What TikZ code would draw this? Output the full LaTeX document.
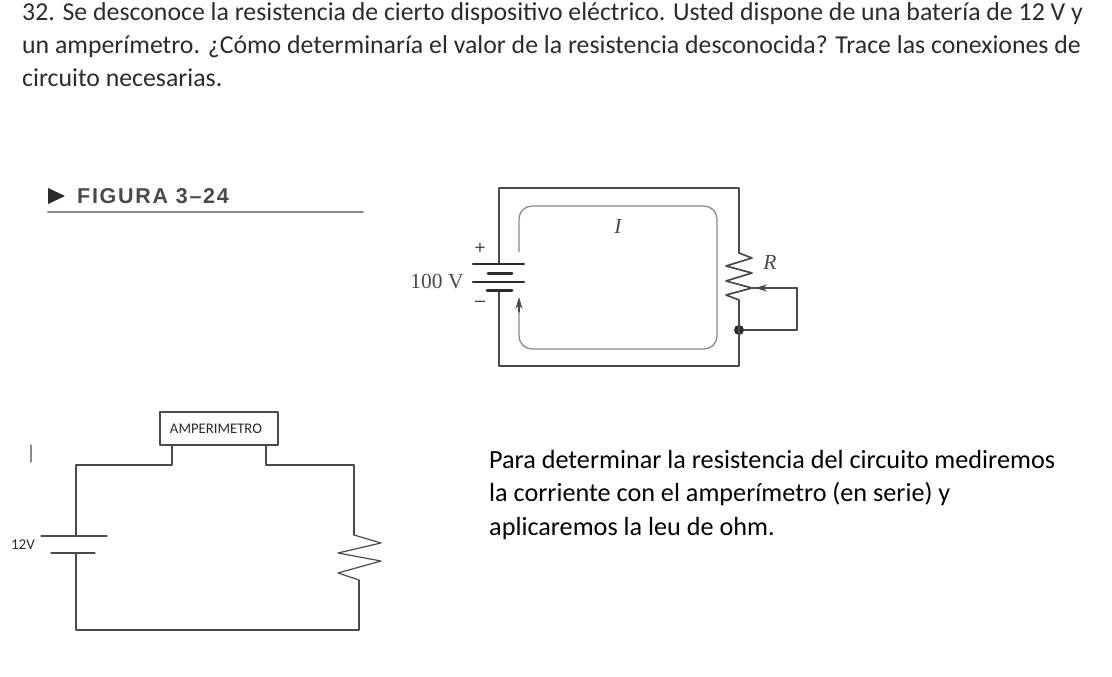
\documentclass[tikz,border=0pt]{standalone}
\usepackage{xcolor}
\usepackage{fontspec}
\setmainfont{Carlito}
\newfontfamily\serifcirc{Liberation Serif}
\newfontfamily\headfont[LetterSpace=8]{Liberation Sans}
\usetikzlibrary{arrows.meta,positioning,calc}
\definecolor{ink}{HTML}{2B2B2B}
\definecolor{wire}{HTML}{4A4A4A}
\definecolor{loopgray}{HTML}{8A8A8A}
\tikzset{
    every picture/.style={line cap=round,line join=round},
    bodytext/.style={anchor=base west,inner sep=0pt,text=ink,font=\fontsize{25.8}{30}\selectfont},
    anstext/.style={anchor=base west,inner sep=0pt,text=black,font=\fontsize{26.2}{30}\selectfont},
    circlabel/.style={inner sep=0pt,text=wire,font=\fontsize{21.5}{24}\serifcirc},
    wireline/.style={draw=wire,line width=1.7pt},
    plate/.style={draw=ink,line width=2.2pt},
    sketchwire/.style={draw=wire,line width=1.2pt},
    loopline/.style={draw=loopgray,line width=1.3pt},
    metertext/.style={draw=wire,line width=1.2pt,fill=white,minimum width=118pt,minimum height=33pt,
      inner sep=0pt,text=ink,font=\fontsize{14.7}{17}\selectfont}
}
\begin{document}
\begin{tikzpicture}[x=1pt,y=-1pt,>={Stealth[length=12pt,width=7pt]}]
  \useasboundingbox (0,0) rectangle (1112,677);
  % statement
  \node[bodytext] (line1) at (22,21) {32. Se desconoce la resistencia de cierto dispositivo eléctrico. Usted dispone de una batería de 12 V y};
  \node[bodytext] (line2) at (22,54) {un amperímetro. ¿Cómo determinaría el valor de la resistencia desconocida? Trace las conexiones de};
  \node[bodytext] (line3) at (22,87) {circuito necesarias.};
  % figure heading
  \fill[ink] (48,188) -- (65,196) -- (48,204) -- cycle;
  \node[anchor=base west,inner sep=0pt,text=wire,font=\fontsize{21.5}{24}\headfont\bfseries] (head) at (77,203) {FIGURA 3–24};
  \coordinate (ruleL) at (48,212);
  \coordinate (ruleR) at (363,212);
  \draw[draw=loopgray,line width=2pt] (ruleL) -- (ruleR);
  % book circuit
  \coordinate (batTop) at (499,264);
  \coordinate (batBot) at (499,290);
  \coordinate (resTop) at (739,253);
  \coordinate (resBot) at (739,300);
  \coordinate (wiper) at (752,288);
  \coordinate (tapOut) at (797,330);
  \node[circle,fill=ink,minimum size=10pt,inner sep=0pt] (tap) at (739,330) {};
  \draw[wireline] (batTop) |- (resTop |- 0,188) -- (resTop);
  \draw[wireline] (batBot) |- (resBot |- 0,366) -- (resBot);
  \draw[wireline] (resTop) -- (752,258) -- (726,266) -- (752,273) -- (726,281) -- (wiper) -- (726,295) -- (resBot);
  \draw[wireline] (tap) -- (tapOut) |- (wiper);
  \draw[draw=wire,line width=1.6pt,->] (797,288) -- (755,288);
  \draw[plate] (473,264) -- (524,264);
  \draw[plate,line width=3pt] (488,273) -- (512,273);
  \draw[plate] (473,282) -- (524,282);
  \draw[plate,line width=3pt] (487,290) -- (512,290);
  \draw[loopline,rounded corners=13pt] (519,252) |- (717,206) |- (519,349) -- (519,300);
  \draw[draw=wire,line width=1.3pt,->] (519,312) -- (519,297);
  \node[circlabel] (vlabel) at (437,282) {100 V};
  \node[circlabel,font=\fontsize{20}{22}\serifcirc\bfseries] (plus) at (480,249) {+};
  \node[circlabel,font=\fontsize{20}{22}\serifcirc\bfseries] (minus) at (480,304) {–};
  \node[circlabel,font=\fontsize{21.5}{24}\serifcirc\itshape] (ilabel) at (618,226) {I};
  \node[circlabel,font=\fontsize{21.5}{24}\serifcirc\itshape] (rlabel) at (770,262) {R};
  % sketched circuit
  \node[metertext] (meter) at (219,428.5) {\hspace*{-6pt}AMPERIMETRO};
  \coordinate (leadL) at (172,445);
  \coordinate (leadR) at (266,445);
  \coordinate (cellTop) at (76,536);
  \coordinate (cellBot) at (76,553);
  \coordinate (loadTop) at (354,535);
  \coordinate (loadBot) at (359,580);
  \draw[sketchwire] (leadL) -- (172,465) -| (cellTop);
  \draw[sketchwire] (leadR) -- (266,465) -| (loadTop);
  \draw[sketchwire] (cellBot) |- (359,630) -- (loadBot);
  \draw[sketchwire] (loadTop) -- (381,543) -- (338,553) -- (381,561) -- (338,573) -- (loadBot);
  \draw[sketchwire] (41,536) -- (107,536);
  \draw[sketchwire] (51,553) -- (95,553);
  \coordinate (tickA) at (31,445);
  \coordinate (tickB) at (31,462);
  \draw[draw=loopgray,line width=1.2pt] (tickA) -- (tickB);
  \node[inner sep=0pt,text=ink,font=\fontsize{15}{17}\selectfont] (cell) at (23,545) {12V};
  % answer
  \node[anstext] (ans1) at (489,468) {Para determinar la resistencia del circuito mediremos};
  \node[anstext] (ans2) at (489,501) {la corriente con el amperímetro (en serie) y};
  \node[anstext] (ans3) at (489,535) {aplicaremos la leu de ohm.};
\end{tikzpicture}
\end{document}
